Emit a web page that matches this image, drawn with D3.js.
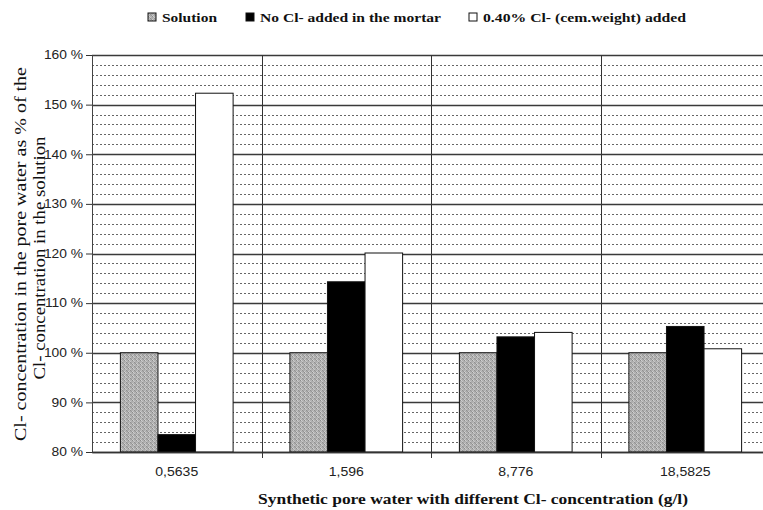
<!DOCTYPE html>
<html><head><meta charset="utf-8">
<script src="https://cdn.jsdelivr.net/npm/d3@7"></script>
<style>body{margin:0;background:#fff}svg{display:block}</style>
</head><body>
<svg id="c" width="763" height="510"></svg>
<script>
const categories = ["0,5635", "1,596", "8,776", "18,5825"];
const seriesNames = ["Solution", "No Cl- added in the mortar", "0.40% Cl- (cem.weight) added"];
const solution = [100, 100, 100, 100];
const noClAdded = [83.5, 114.3, 103.2, 105.3];
const clAdded = [152.3, 120.1, 104.1, 100.8];
const yTicks = [80, 90, 100, 110, 120, 130, 140, 150, 160];
const yTickLabels = ["80 %", "90 %", "100 %", "110 %", "120 %", "130 %", "140 %", "150 %", "160 %"];
const xTitle = "Synthetic pore water with different Cl- concentration (g/l)";
const yTitle1 = "Cl- concentration in the pore water as % of the";
const yTitle2 = "Cl- concentration in the solution";

const svg = d3.select("#c");
const L = 92, R = 770, T = 55, B = 452;
const serif = "Liberation Serif, Times New Roman, serif";
const sans = "Liberation Sans, Arial, sans-serif";

function stretch(sel, f) {
  sel.each(function () {
    const w = this.getComputedTextLength();
    d3.select(this).attr("textLength", w * f).attr("lengthAdjust", "spacingAndGlyphs");
  });
}

// gray speckle pattern
const defs = svg.append("defs");
const pat = defs.append("pattern").attr("id","speck").attr("width",4).attr("height",4).attr("patternUnits","userSpaceOnUse");
pat.append("rect").attr("width",4).attr("height",4).attr("fill","#adadad");
[[0,0,"#8c8c8c"],[2,1,"#c8c8c8"],[1,2,"#c0c0c0"],[3,3,"#959595"],[3,0,"#b8b8b8"],[0,3,"#cdcdcd"],[2,2,"#909090"],[1,0,"#d0d0d0"]]
  .forEach(([x,y,c])=>pat.append("rect").attr("x",x).attr("y",y).attr("width",1).attr("height",1).attr("fill",c));

const x = d3.scaleBand().domain(categories).range([L, R]);
const y = d3.scaleLinear().domain([80, 160]).range([B, T]);
const groupW = x.bandwidth() * 0.665;
const barW = groupW / 3;

// minor grid (every 2%)
const minor = d3.range(82, 160, 2).filter(v => v % 10 !== 0);
svg.append("g").selectAll("line").data(minor).join("line")
  .attr("x1", L).attr("x2", R).attr("y1", d => Math.round(y(d))+0.5).attr("y2", d => Math.round(y(d))+0.5)
  .attr("stroke", "#666").attr("stroke-width", 1).attr("stroke-dasharray", "2,2");
// major grid
svg.append("g").selectAll("line").data(yTicks).join("line")
  .attr("x1", L).attr("x2", R).attr("y1", d => Math.round(y(d))+0.5).attr("y2", d => Math.round(y(d))+0.5)
  .attr("stroke", "#3a3a3a").attr("stroke-width", 1.3);
// vertical category dividers
svg.append("g").selectAll("line").data(categories.slice(1)).join("line")
  .attr("x1", d => Math.round(x(d))+0.5).attr("x2", d => Math.round(x(d))+0.5)
  .attr("y1", T).attr("y2", B + 6)
  .attr("stroke", "#333").attr("stroke-width", 1);

// bars
const series = [solution, noClAdded, clAdded];
const fills = ["url(#speck)", "#000", "#fff"];
const gBars = svg.append("g");
series.forEach((vals, si) => {
  gBars.selectAll(null).data(vals).join("rect")
    .attr("x", (d, i) => x(categories[i]) + (x.bandwidth() - groupW) / 2 + si * barW)
    .attr("y", d => y(d))
    .attr("width", barW)
    .attr("height", d => B - y(d))
    .attr("fill", fills[si])
    .attr("stroke", "#111").attr("stroke-width", 1);
});

// axes
const yAxis = d3.axisLeft(y).tickValues(yTicks).tickFormat((d, i) => yTickLabels[i]).tickSize(6);
const gy = svg.append("g").attr("transform", `translate(${L},0)`).call(yAxis);
gy.select(".domain").attr("stroke", "#444");
gy.selectAll(".tick line").attr("stroke", "#333");
const yt = gy.selectAll("text").attr("font-family", sans).attr("font-size", 12).attr("fill", "#222").attr("x", -9);
stretch(yt, 1.15);

const gx = svg.append("g").attr("transform", `translate(0,${B})`)
  .call(d3.axisBottom(x).tickSize(0).tickPadding(15));
gx.select(".domain").attr("stroke", "#333").attr("stroke-width", 1.3);
const xt = gx.selectAll("text").attr("font-family", sans).attr("font-size", 12).attr("fill", "#222");
stretch(xt, 1.17);

// axis titles
svg.append("text").attr("x", 473).attr("y", 504)
  .attr("text-anchor", "middle").attr("font-family", serif)
  .attr("font-weight", "bold").attr("font-size", 15).attr("fill", "#111")
  .attr("textLength", 430).attr("lengthAdjust", "spacingAndGlyphs").text(xTitle);
svg.append("text").attr("transform", `translate(26,254) rotate(-90)`)
  .attr("text-anchor", "middle").attr("font-family", serif)
  .attr("font-size", 16).attr("fill", "#111")
  .attr("textLength", 374).attr("lengthAdjust", "spacingAndGlyphs").text(yTitle1);
svg.append("text").attr("transform", `translate(45,258) rotate(-90)`)
  .attr("text-anchor", "middle").attr("font-family", serif)
  .attr("font-size", 16).attr("fill", "#111")
  .attr("textLength", 243).attr("lengthAdjust", "spacingAndGlyphs").text(yTitle2);

// legend
const legX = [148, 246, 469];
const legW = [55, 181, 203];
const lg = svg.append("g");
seriesNames.forEach((n, i) => {
  lg.append("rect").attr("x", legX[i]).attr("y", 13).attr("width", 8).attr("height", 8)
    .attr("fill", fills[i]).attr("stroke", "#111").attr("stroke-width", 1);
  lg.append("text").attr("x", legX[i] + 14).attr("y", 21.5)
    .attr("font-family", serif).attr("font-weight", "bold")
    .attr("font-size", 13).attr("fill", "#111")
    .attr("textLength", legW[i]).attr("lengthAdjust", "spacingAndGlyphs").text(n);
});
</script>
</body></html>
